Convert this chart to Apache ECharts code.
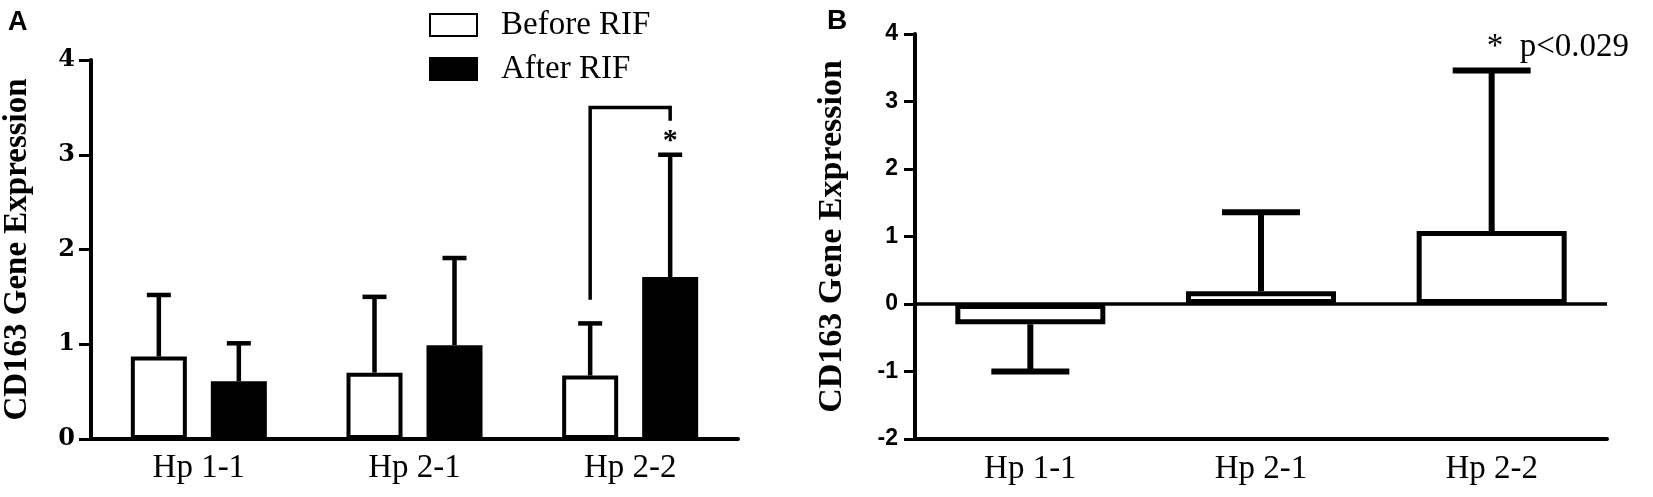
<!DOCTYPE html>
<html>
<head>
<meta charset="utf-8">
<script src="https://cdn.jsdelivr.net/npm/echarts@6/dist/echarts.min.js"></script>
<style>
  html, body { margin: 0; padding: 0; background: #fff; }
  #chart { width: 1653px; height: 497px; }
</style>
</head>
<body>
<div id="chart"></div>
<script>
var categories = ['Hp 1-1', 'Hp 2-1', 'Hp 2-2'];
// panel A: means and upper end of the error bar
var beforeMean = [0.87, 0.70, 0.67];
var beforeUpper = [1.52, 1.50, 1.22];
var afterMean = [0.61, 0.99, 1.71];
var afterUpper = [1.01, 1.91, 3.00];
// panel B: change, and the end of its error bar
var diffMean = [-0.30, 0.19, 1.08];
var diffErrEnd = [-1.00, 1.36, 3.46];
// significance marks
var bracketA = [2, 1.47, 3.50, 3.36, 3.14]; // category, left foot, top, right foot, star
var sigB = [2, 3.80, '*  p<0.029'];

var serif = 'Liberation Serif';
var sans = 'Liberation Sans';
var barWA = 56, gapA = 24;
var offA = (barWA + gapA) / 2;

function errorBar(offset, capHalf, width) {
    return function (params, api) {
        var base = api.coord([api.value(0), api.value(1)]);
        var end = api.coord([api.value(0), api.value(2)]);
        var cx = base[0] + offset;
        var st = { stroke: '#000', lineWidth: width };
        return {
            type: 'group',
            children: [
                { type: 'line', shape: { x1: cx, y1: base[1], x2: cx, y2: end[1] }, style: st },
                { type: 'line', shape: { x1: cx - capHalf, y1: end[1], x2: cx + capHalf, y2: end[1] }, style: st }
            ]
        };
    };
}

function pairs(means, ends) {
    return means.map(function (m, i) { return [i, m, ends[i]]; });
}

var myChart = echarts.init(document.getElementById('chart'));

var option = {
    backgroundColor: '#fff',
    animation: false,
    graphic: [
        { type: 'text', left: 8, top: 9, style: { text: 'A', font: 'bold 27px ' + sans, fill: '#000' } },
        { type: 'text', left: 827, top: 7, style: { text: 'B', font: 'bold 28px ' + sans, fill: '#000' } }
    ],
    legend: {
        data: ['Before RIF', 'After RIF'],
        orient: 'vertical',
        left: 424,
        top: 1,
        icon: 'rect',
        itemWidth: 47,
        itemHeight: 22,
        itemGap: 6,
        selectedMode: false,
        textStyle: { fontFamily: serif, fontSize: 33, color: '#000', lineHeight: 38, padding: [0, 0, 0, 19] }
    },
    grid: [
        { left: 90, right: 915, top: 60, bottom: 58 },
        { left: 915, right: 46, top: 34, bottom: 58 }
    ],
    xAxis: [
        {
            type: 'category', gridIndex: 0, data: categories,
            axisLine: { lineStyle: { color: '#000', width: 4 } },
            axisTick: { alignWithLabel: true, length: 12, lineStyle: { color: '#000', width: 3 } },
            axisLabel: { color: '#000', fontFamily: serif, fontSize: 33, margin: 13 }
        },
        {
            type: 'category', gridIndex: 1, data: categories,
            axisLine: { onZero: false, lineStyle: { color: '#000', width: 4 } },
            axisTick: { alignWithLabel: true, length: 13, lineStyle: { color: '#000', width: 3 } },
            axisLabel: { color: '#000', fontFamily: serif, fontSize: 33, margin: 14 }
        }
    ],
    yAxis: [
        {
            type: 'value', gridIndex: 0, min: 0, max: 4, interval: 1,
            name: 'CD163 Gene Expression', nameLocation: 'middle', nameGap: 57,
            nameTextStyle: { fontFamily: serif, fontWeight: 'bold', fontSize: 33, color: '#000' },
            axisLine: { show: true, lineStyle: { color: '#000', width: 4 } },
            axisTick: { show: true, length: 12, lineStyle: { color: '#000', width: 3 } },
            axisLabel: { color: '#000', fontFamily: 'DejaVu Serif', fontWeight: 'bold', fontSize: 24, margin: 16 },
            splitLine: { show: false }
        },
        {
            type: 'value', gridIndex: 1, min: -2, max: 4, interval: 1,
            name: 'CD163 Gene Expression', nameLocation: 'middle', nameGap: 66,
            nameTextStyle: { fontFamily: serif, fontWeight: 'bold', fontSize: 34, color: '#000' },
            axisLine: { show: true, lineStyle: { color: '#000', width: 4 } },
            axisTick: { show: true, length: 11, lineStyle: { color: '#000', width: 3 } },
            axisLabel: { color: '#000', fontFamily: sans, fontWeight: 'bold', fontSize: 23, margin: 17 },
            splitLine: { show: false }
        }
    ],
    series: [
        {
            name: 'Before RIF', type: 'bar', xAxisIndex: 0, yAxisIndex: 0,
            data: beforeMean, barWidth: barWA, barGap: (gapA / barWA * 100) + '%', z: 3,
            itemStyle: { color: '#fff', borderColor: '#000', borderWidth: 4 }
        },
        {
            name: 'After RIF', type: 'bar', xAxisIndex: 0, yAxisIndex: 0,
            data: afterMean, barWidth: barWA, z: 3,
            itemStyle: { color: '#000', borderColor: '#000', borderWidth: 4 }
        },
        {
            name: 'errBefore', type: 'custom', xAxisIndex: 0, yAxisIndex: 0, z: 2,
            renderItem: errorBar(-offA, 12, 4.5), data: pairs(beforeMean, beforeUpper), silent: true
        },
        {
            name: 'errAfter', type: 'custom', xAxisIndex: 0, yAxisIndex: 0, z: 2,
            renderItem: errorBar(offA, 12, 4.5), data: pairs(afterMean, afterUpper), silent: true
        },
        {
            name: 'bracket', type: 'custom', xAxisIndex: 0, yAxisIndex: 0, z: 4, silent: true,
            data: [bracketA],
            renderItem: function (params, api) {
                var c = api.value(0);
                var p1 = api.coord([c, api.value(1)]);
                var p2 = api.coord([c, api.value(2)]);
                var p3 = api.coord([c, api.value(3)]);
                var p4 = api.coord([c, api.value(4)]);
                var xl = p1[0] - offA, xr = p1[0] + offA;
                return {
                    type: 'group',
                    children: [
                        {
                            type: 'polyline',
                            shape: { points: [[xl, p1[1]], [xl, p2[1]], [xr, p2[1]], [xr, p3[1]]] },
                            style: { stroke: '#000', lineWidth: 3.5, fill: null }
                        },
                        {
                            type: 'text', x: xr, y: p4[1],
                            style: { text: '*', font: 'bold 30px ' + serif, fill: '#000', align: 'center', verticalAlign: 'middle' }
                        }
                    ]
                };
            }
        },
        {
            name: 'Change', type: 'bar', xAxisIndex: 1, yAxisIndex: 1,
            data: diffMean, barWidth: 150, z: 3,
            itemStyle: { color: '#fff', borderColor: '#000', borderWidth: 5 },
            markLine: {
                silent: true, symbol: 'none', label: { show: false },
                lineStyle: { color: '#000', width: 3.5, type: 'solid' },
                data: [{ yAxis: 0 }]
            }
        },
        {
            name: 'errChange', type: 'custom', xAxisIndex: 1, yAxisIndex: 1, z: 2,
            renderItem: errorBar(0, 39, 6), data: pairs(diffMean, diffErrEnd), silent: true
        },
        {
            name: 'sigB', type: 'custom', xAxisIndex: 1, yAxisIndex: 1, z: 4, silent: true,
            data: [sigB],
            renderItem: function (params, api) {
                var p = api.coord([api.value(0), api.value(1)]);
                return {
                    type: 'text', x: p[0] - 5, y: p[1],
                    style: { text: sigB[2], font: '33px ' + serif, fill: '#000', align: 'left', verticalAlign: 'middle' }
                };
            }
        }
    ]
};

myChart.setOption(option);
window.addEventListener('resize', function () {
    myChart.resize();
});
</script>
</body>
</html>
